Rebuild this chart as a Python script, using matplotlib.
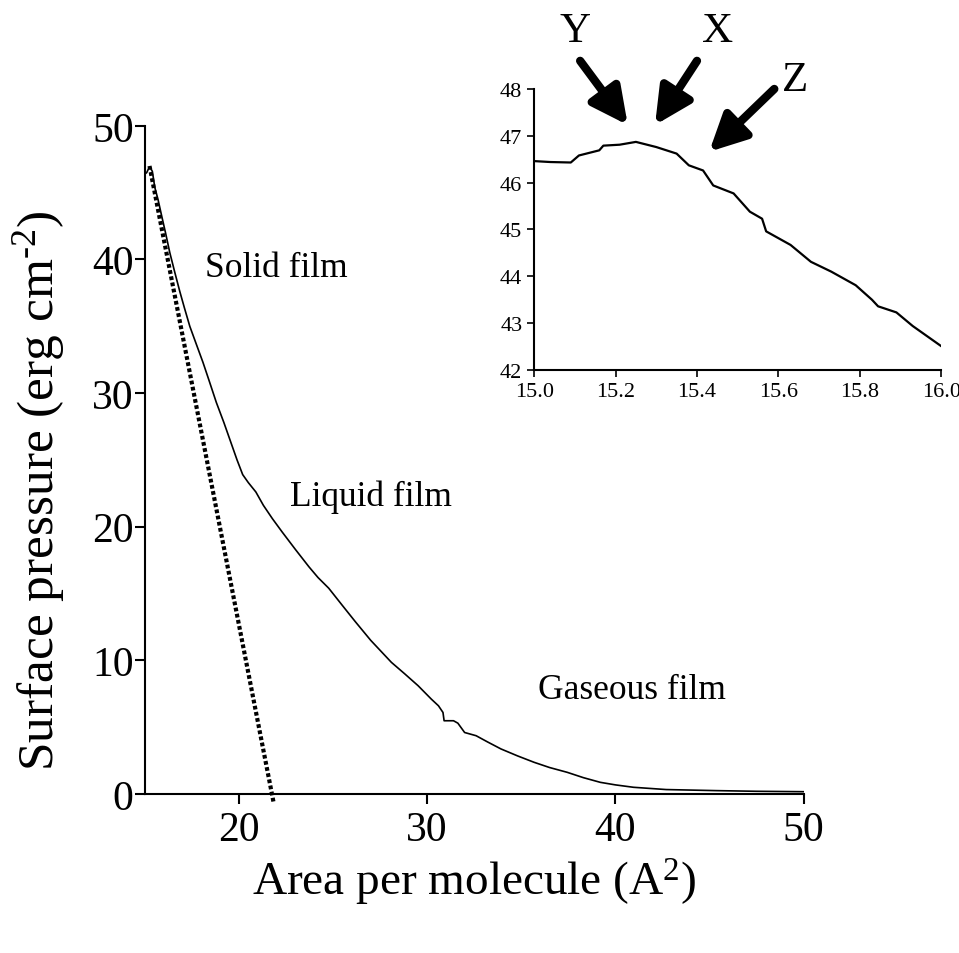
import matplotlib
matplotlib.use("Agg")
import matplotlib.pyplot as plt

plt.rcParams['font.family'] = ['Liberation Serif', 'DejaVu Serif']
plt.rcParams['mathtext.fontset'] = 'custom'
plt.rcParams['mathtext.rm'] = 'Liberation Serif'
plt.rcParams['mathtext.it'] = 'Liberation Serif:italic'

# main isotherm (area per molecule, surface pressure)
area = [15.0, 15.1, 15.2, 15.27, 15.4, 15.53, 15.7, 15.89, 16.1, 16.33,
        16.6, 16.86, 17.1, 17.39, 17.7, 18.09, 18.4, 18.8, 19.2, 19.5,
        19.9, 20.2, 20.5, 20.9, 21.3, 21.78, 22.3, 23.0, 23.72, 24.2,
        24.77, 25.5, 26.18, 27.0, 28.1, 28.8, 29.52, 30.22, 30.6, 30.84,
        30.9, 31.4, 31.63, 31.99, 32.6, 33.2, 33.92, 34.8, 35.68, 36.5,
        37.44, 38.3, 39.2, 40.0, 40.96, 42.7, 45.35, 47.5, 50.0]
pressure = [46.4, 46.5, 46.8, 46.9, 46.6, 45.4, 44.5, 43.3, 42.0, 40.5,
            39.0, 37.6, 36.4, 35.0, 33.8, 32.3, 31.0, 29.3, 27.8, 26.6,
            25.0, 23.9, 23.3, 22.6, 21.6, 20.6, 19.6, 18.3, 17.0, 16.2,
            15.4, 14.1, 12.9, 11.5, 9.85, 9.0, 8.1, 7.1, 6.6, 6.1,
            5.48, 5.48, 5.3, 4.6, 4.36, 3.9, 3.37, 2.85, 2.37, 1.98,
            1.62, 1.22, 0.87, 0.68, 0.5, 0.33, 0.25, 0.2, 0.17]

# extrapolated solid film line
solid_x = [15.25, 21.85]
solid_y = [47.0, -0.7]

# inset: collapse region
ins_x = [15.0, 15.04, 15.09, 15.11, 15.16, 15.17, 15.21, 15.25, 15.30, 15.35,
         15.38, 15.415, 15.44, 15.49, 15.53, 15.56, 15.57, 15.63, 15.68, 15.73,
         15.79, 15.83, 15.845, 15.89, 15.93, 16.0]
ins_y = [46.46, 46.44, 46.43, 46.58, 46.69, 46.79, 46.81, 46.87, 46.76, 46.62,
         46.37, 46.26, 45.94, 45.77, 45.38, 45.23, 44.96, 44.67, 44.31, 44.1,
         43.81, 43.5, 43.36, 43.23, 42.94, 42.51]

fig = plt.figure(figsize=(9.59, 9.54), dpi=100)

ax = fig.add_axes([0.151, 0.1667, 0.687, 0.7003])
ax.plot(area, pressure, color='black', lw=1.2)
ax.plot(solid_x, solid_y, color='black', lw=3.0, linestyle=(0, (0.9, 0.6)), clip_on=False)
ax.set_xlim(15, 50)
ax.set_ylim(0, 50)
ax.set_xticks([20, 30, 40, 50])
ax.set_yticks([0, 10, 20, 30, 40, 50])
for s in ['top', 'right']:
    ax.spines[s].set_visible(False)
for s in ['left', 'bottom']:
    ax.spines[s].set_linewidth(1.5)
ax.tick_params(direction='out', length=7, width=1.5, labelsize=30)
ax.tick_params(axis='x', pad=5)
ax.tick_params(axis='y', pad=1)
ax.set_xlabel('Area per molecule (A$^2$)', fontsize=34, labelpad=5)
ax.set_ylabel('Surface pressure (erg cm$^{\\text{-}2}$)', fontsize=37)
ax.yaxis.set_label_coords(-0.118, 0.455)

ax.text(22.0, 39.4, 'Solid film', fontsize=25.5, ha='center', va='center')
ax.text(27.0, 22.3, 'Liquid film', fontsize=25.5, ha='center', va='center')
ax.text(40.9, 7.85, 'Gaseous film', fontsize=25.5, ha='center', va='center')

ins = fig.add_axes([0.557, 0.6111, 0.4244, 0.2946])
ins.plot(ins_x, ins_y, color='black', lw=1.6)
ins.set_xlim(15.0, 16.0)
ins.set_ylim(42, 48)
ins.set_xticks([15.0, 15.2, 15.4, 15.6, 15.8, 16.0])
ins.set_xticklabels(['15.0', '15.2', '15.4', '15.6', '15.8', '16.0'])
ins.set_yticks([42, 43, 44, 45, 46, 47, 48])
for s in ['top', 'right']:
    ins.spines[s].set_visible(False)
for s in ['left', 'bottom']:
    ins.spines[s].set_linewidth(1.5)
ins.tick_params(direction='out', length=5, width=1.2, labelsize=16)

arrow = dict(arrowstyle='-|>,head_length=2.2,head_width=1.1', lw=6, color='black',
             shrinkA=0, shrinkB=0)
ins.annotate('', xy=(15.23, 47.23), xytext=(15.113, 48.6), arrowprops=arrow, annotation_clip=False)
ins.annotate('', xy=(15.297, 47.23), xytext=(15.40, 48.6), arrowprops=arrow, annotation_clip=False)
ins.annotate('', xy=(15.43, 46.66), xytext=(15.59, 48.0), arrowprops=arrow, annotation_clip=False)
ins.text(15.10, 49.25, 'Y', fontsize=31, ha='center', va='center')
ins.text(15.45, 49.25, 'X', fontsize=31, ha='center', va='center')
ins.text(15.64, 48.2, 'Z', fontsize=31, ha='center', va='center')

fig.savefig('out.png', dpi=100)
